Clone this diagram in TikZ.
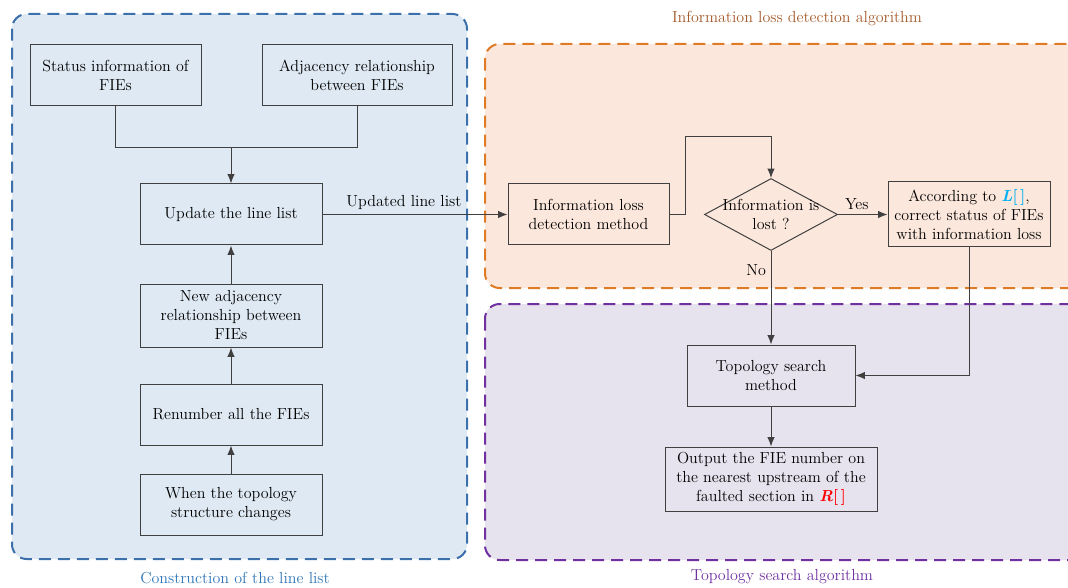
\documentclass[tikz,border=0pt]{standalone}
\usepackage{tikz}
\usetikzlibrary{shapes,arrows,arrows.meta,positioning}
\definecolor{linegray}{HTML}{404040}
\definecolor{edgeblue}{HTML}{3C70AA}
\definecolor{fillblue}{HTML}{DFE9F3}
\definecolor{capblue}{HTML}{2E75B6}
\definecolor{edgeorange}{HTML}{DF7A25}
\definecolor{fillorange}{HTML}{FBE7DC}
\definecolor{caporange}{HTML}{A45A2A}
\definecolor{edgepurple}{HTML}{7030A0}
\definecolor{fillpurple}{HTML}{E6E2EE}
\definecolor{listblue}{HTML}{00B0F0}
\definecolor{listred}{HTML}{FF0000}
\tikzstyle{block} = [draw=linegray, rectangle, align=center, line width=0.75pt,
minimum height=45.75pt, minimum width=136.5pt, inner sep=2pt]
\tikzstyle{decision} = [draw=linegray, diamond, line width=0.75pt, inner sep=0pt,
minimum width=99.75pt, minimum height=54pt]
\tikzstyle{region} = [rounded corners=11pt, dash pattern=on 9pt off 5.25pt, line width=1.5pt]
\tikzstyle{line} = [draw=linegray, line width=0.75pt]

\begin{document}
\begin{tikzpicture}[x=0.75pt, y=-0.75pt, >={Latex[length=7pt,width=5.5pt]}, font=\fontsize{12}{14.25}\selectfont]
\useasboundingbox (0,0) rectangle (1068,588);
\clip (0,0) rectangle (1068,588);

% The three dashed regions go first, behind everything
\draw [region, draw=edgeblue, fill=fillblue] (12,14) rectangle (467,559);
\draw [region, draw=edgeorange, fill=fillorange] (485,44) rectangle (1090,288);
\draw [region, draw=edgepurple, fill=fillpurple] (485,304) rectangle (1090,560);
\node [text=capblue] (capline) at (235,578) {Construction of the line list};
\node [text=caporange] (caploss) at (797,19) {Information loss detection algorithm};
\node [text=edgepurple] (capsearch) at (782,577) {Topology search algorithm};

% Construction of the line list
\node [block, minimum width=128.25pt] (status) at (115.5,75.5) {Status information of\\FIEs};
\node [block, minimum width=142.5pt] (adjacency) at (357,75.5) {Adjacency relationship\\between FIEs};
\node [block] (update) at (231,214.5) {Update the line list};
\node [block, minimum height=47.25pt, below of=update, node distance=75.75pt] (newadj) {New adjacency\\relationship between\\FIEs};
\node [block, below of=newadj, node distance=74.25pt] (renumber) {Renumber all the FIEs};
\node [block, below of=renumber, node distance=67.5pt] (changes) {When the topology\\structure changes};
\coordinate (join) at (231,148);

% Information loss detection and topology search
\node [block, minimum width=120.75pt, right of=update, node distance=268.125pt] (detect) {Information loss\\detection method};
\node [decision, right of=detect, node distance=136.875pt] (lost) {};
\node [align=center] (losttext) at (lost) {Information is\\lost ?};
\node [block, minimum width=121.5pt, minimum height=48.75pt, right of=lost, node distance=148.5pt] (correct)
  {According to \textcolor{listblue}{\bfseries\itshape L\upshape[\,]},\\correct status of FIEs\\with information loss};
\node [block, minimum width=126pt, below of=lost, node distance=120.75pt] (search) {Topology search\\method};
\node [block, minimum width=159pt, minimum height=48pt, below of=search, node distance=77.625pt] (output)
  {Output the FIE number on\\the nearest upstream of the\\faulted section in \textcolor{listred}{\bfseries\itshape R\upshape[\,]}};
\coordinate (bend) at (685,137);

% Connecting the blocks
\draw [line] (status.south) |- (join);
\draw [line] (adjacency.south) |- (join);
\draw [line,->] (join) -- (update);
\draw [line,->] (newadj) -- (update);
\draw [line,->] (renumber) -- (newadj);
\draw [line,->] (changes) -- (renumber);
\draw [line,->] (update) -- node [above, pos=0.44] {Updated line list} (detect);
\draw [line,->] (detect.east) -| (bend) -| (lost.north);
\draw [line,->] (lost) -- node [above, pos=0.38] {Yes} (correct);
\draw [line,->] (lost) -- node [left, pos=0.2] {No} (search);
\draw [line,->] (correct.south) |- (search.east);
\draw [line,->] (search) -- (output);
\end{tikzpicture}
\end{document}
